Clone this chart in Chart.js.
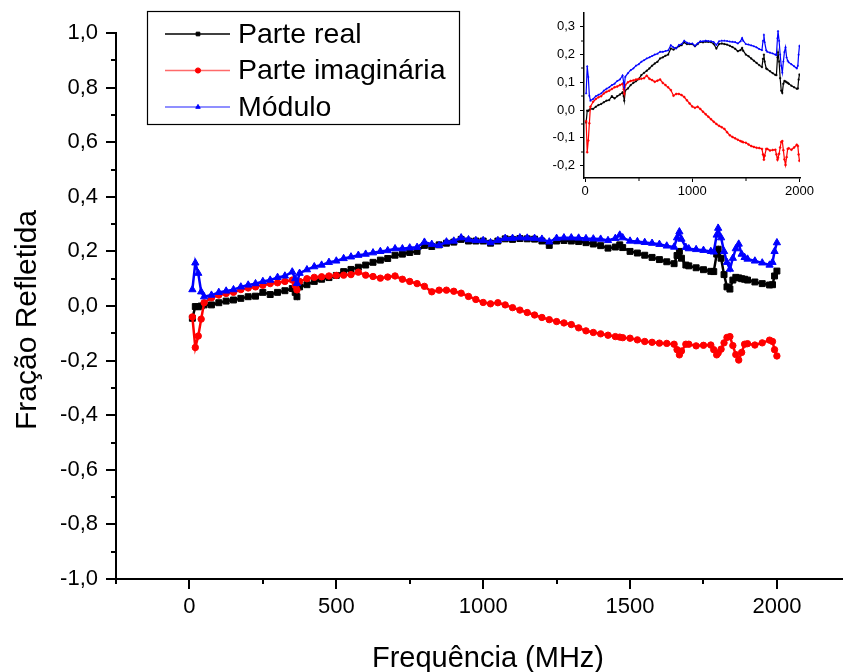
<!DOCTYPE html>
<html>
<head>
<meta charset="utf-8">
<script src="https://cdn.jsdelivr.net/npm/chart.js@4.4.1/dist/chart.umd.min.js"></script>
<style>
  body { margin: 0; background: #fff; }
  #wrap { position: relative; width: 843px; height: 672px; }
  #main { position: absolute; left: 0; top: 0; }
  #inset { position: absolute; left: 530px; top: 0; }
</style>
</head>
<body>
<div id="wrap">
  <canvas id="main" width="843" height="672"></canvas>
  <canvas id="inset" width="313" height="210"></canvas>
</div>
<script>
// frequency samples (MHz) and the three measured curves
const freq = [10, 20, 30, 40, 50,
  75, 100, 125, 150, 175, 200, 225, 250, 275, 300, 325, 350,
  360, 366, 375,
  400, 425, 450, 475, 500, 525, 550, 575, 600, 625, 650, 675, 700, 725, 750, 775,
  800, 825, 850, 875, 900, 925, 950, 975, 1000, 1025, 1050, 1075, 1100, 1125, 1150, 1175,
  1200, 1225, 1250, 1275, 1300, 1325, 1350, 1375, 1400, 1425, 1450,
  1465, 1475,
  1500, 1525, 1550, 1575, 1600, 1625, 1650,
  1660, 1668, 1675, 1690, 1700,
  1725, 1750, 1775,
  1785, 1795, 1800, 1810, 1820, 1830, 1840, 1850, 1860, 1870, 1880, 1890, 1900,
  1925, 1950, 1975,
  1985, 1992, 2000];

const parteReal = [-0.045, -0.002, -0.003, 0.0, 0.004,
  0.004, 0.012, 0.018, 0.022, 0.028, 0.034, 0.036, 0.05, 0.042, 0.05, 0.056, 0.064,
  0.05, 0.034, 0.07,
  0.078, 0.09, 0.098, 0.104, 0.112, 0.126, 0.134, 0.142, 0.15, 0.16, 0.168, 0.174, 0.186, 0.19, 0.196, 0.2,
  0.222, 0.218, 0.224, 0.23, 0.234, 0.244, 0.238, 0.238, 0.238, 0.23, 0.238, 0.246, 0.244, 0.247, 0.246, 0.245,
  0.238, 0.222, 0.238, 0.24, 0.238, 0.236, 0.232, 0.227, 0.221, 0.212, 0.216,
  0.224, 0.214,
  0.2, 0.194, 0.186, 0.178, 0.17, 0.162, 0.155,
  0.185, 0.2, 0.175, 0.15, 0.147,
  0.14, 0.133, 0.127,
  0.126, 0.19, 0.208, 0.175, 0.115, 0.07, 0.062, 0.095, 0.105, 0.103, 0.1, 0.098, 0.095,
  0.088, 0.082, 0.077,
  0.078, 0.11, 0.128];

const parteImag = [-0.04, -0.152, -0.11, -0.048, 0.012,
  0.03, 0.04, 0.046, 0.05, 0.06, 0.066, 0.07, 0.076, 0.082, 0.085, 0.09, 0.095,
  0.075, 0.059, 0.09,
  0.1, 0.105, 0.107, 0.11, 0.112, 0.113, 0.115, 0.124, 0.113, 0.108, 0.102, 0.106, 0.11, 0.098, 0.09, 0.082,
  0.072, 0.052, 0.058, 0.058, 0.054, 0.047, 0.035, 0.024, 0.013, 0.008, 0.012, 0.004, -0.006, -0.015, -0.024, -0.033,
  -0.042, -0.05, -0.057, -0.062, -0.068, -0.08, -0.091, -0.097, -0.102, -0.107, -0.112,
  -0.114, -0.116,
  -0.118, -0.124, -0.13, -0.133, -0.136, -0.137, -0.14,
  -0.16, -0.179, -0.165, -0.14, -0.14,
  -0.146, -0.144, -0.143,
  -0.16, -0.179, -0.172, -0.158, -0.135, -0.115, -0.112, -0.145, -0.178, -0.198, -0.17, -0.14, -0.138,
  -0.143, -0.135, -0.125,
  -0.13, -0.16, -0.183];

const modulo = [0.06, 0.158, 0.12, 0.052, 0.034,
  0.04, 0.05, 0.055, 0.06, 0.07, 0.077, 0.082, 0.09, 0.095, 0.105, 0.11, 0.125,
  0.1, 0.083, 0.12,
  0.133, 0.144, 0.15, 0.16, 0.165, 0.174, 0.18, 0.186, 0.19, 0.195, 0.2, 0.203, 0.21, 0.21, 0.213, 0.215,
  0.234, 0.226, 0.222, 0.235, 0.238, 0.25, 0.243, 0.24, 0.24, 0.232, 0.24, 0.248, 0.248, 0.25, 0.249, 0.248,
  0.245, 0.235, 0.248, 0.25, 0.25, 0.249, 0.247, 0.246, 0.245, 0.24, 0.248,
  0.26, 0.25,
  0.238, 0.236, 0.233, 0.23, 0.226, 0.22, 0.216,
  0.25, 0.272, 0.245, 0.215, 0.21,
  0.207, 0.204, 0.2,
  0.198, 0.26, 0.285, 0.25, 0.2, 0.16, 0.135, 0.175, 0.21, 0.227, 0.19, 0.178, 0.172,
  0.165, 0.158, 0.15,
  0.16, 0.2, 0.232];

const seriesNames = ['Parte real', 'Parte imaginária', 'Módulo'];

// axis ticks
const mainXTicks = [0, 500, 1000, 1500, 2000];
const mainXMinor = [-250, 250, 750, 1250, 1750];
const mainYTicks = [-1.0, -0.8, -0.6, -0.4, -0.2, 0.0, 0.2, 0.4, 0.6, 0.8, 1.0];
const mainYMinor = [-0.9, -0.7, -0.5, -0.3, -0.1, 0.1, 0.3, 0.5, 0.7, 0.9];
const insetXTicks = [0, 1000, 2000];
const insetXMinor = [500, 1500];
const insetYTicks = [-0.2, -0.1, 0.0, 0.1, 0.2, 0.3];
const insetYMinor = [-0.15, -0.05, 0.05, 0.15, 0.25];

const FONT = '"Liberation Sans", Arial, Helvetica, sans-serif';
const comma = v => Number(v).toFixed(1).replace('.', ',');
const plain = v => String(Math.round(v));
const pts = arr => freq.map((f, i) => ({ x: f, y: arr[i] }));

const styles = [
  { color: '#000000', legendLine: '#000000', pointStyle: 'rect', radius: 4.2, order: 2 },
  { color: '#ff0000', legendLine: '#ff6a6a', pointStyle: 'circle', radius: 3.2, order: 1 },
  { color: '#0000ff', legendLine: '#6a6aff', pointStyle: 'triangle', radius: 4.2, order: 0 }
];

function makeDatasets(small) {
  return [parteReal, parteImag, modulo].map((arr, i) => ({
    label: seriesNames[i],
    data: pts(arr),
    borderColor: styles[i].color,
    backgroundColor: styles[i].color,
    pointBackgroundColor: styles[i].color,
    pointBorderColor: styles[i].color,
    pointStyle: styles[i].pointStyle,
    pointRadius: small ? 1 : styles[i].radius,
    pointBorderWidth: small ? 0.5 : 1,
    borderWidth: small ? 1.2 : 2.5,
    legendLine: styles[i].legendLine,
    order: styles[i].order,
    tension: 0
  }));
}

// no automatic label padding, so the plot box stays where it is
const noPad = s => { s.paddingLeft = 0; s.paddingRight = 0; s.paddingTop = 0; s.paddingBottom = 0; };

// short ticks between the labelled ones
const minorTicks = {
  id: 'minorTicks',
  afterDraw(chart, args, opts) {
    const { ctx } = chart;
    const x = chart.scales.x, y = chart.scales.y;
    ctx.save();
    ctx.strokeStyle = '#000';
    ctx.lineWidth = opts.width;
    ctx.beginPath();
    opts.x.forEach(v => {
      const px = Math.round(x.getPixelForValue(v));
      ctx.moveTo(px, y.bottom);
      ctx.lineTo(px, y.bottom + opts.len);
    });
    opts.y.forEach(v => {
      const py = Math.round(y.getPixelForValue(v));
      ctx.moveTo(x.left, py);
      ctx.lineTo(x.left - opts.len, py);
    });
    ctx.stroke();
    ctx.restore();
  }
};

// boxed legend and axis titles of the main plot
const boxLegend = {
  id: 'boxLegend',
  afterDraw(chart) {
    const ctx = chart.ctx;
    ctx.save();
    ctx.strokeStyle = '#000';
    ctx.lineWidth = 1.2;
    ctx.strokeRect(147.5, 11.5, 312, 113);
    ctx.font = '28.5px ' + FONT;
    ctx.textBaseline = 'middle';
    chart.data.datasets.forEach((ds, i) => {
      const yy = 34 + i * 36.5;
      ctx.strokeStyle = ds.legendLine;
      ctx.lineWidth = 1.5;
      ctx.beginPath();
      ctx.moveTo(165, yy);
      ctx.lineTo(230, yy);
      ctx.stroke();
      ctx.fillStyle = ds.borderColor;
      ctx.strokeStyle = ds.borderColor;
      ctx.lineWidth = 1;
      Chart.helpers.drawPoint(ctx, { pointStyle: ds.pointStyle, radius: 2.6, borderWidth: 1, rotation: 0 }, 198, yy);
      ctx.fillStyle = '#000';
      ctx.fillText(ds.label, 238, yy + 1);
    });

    ctx.font = '29px ' + FONT;
    ctx.fillStyle = '#000';
    ctx.textAlign = 'center';
    ctx.textBaseline = 'alphabetic';
    ctx.fillText('Frequência (MHz)', 488, 667);
    ctx.translate(36, 320);
    ctx.rotate(-Math.PI / 2);
    ctx.font = '30px ' + FONT;
    ctx.fillText('Fração Refletida', 0, 0);
    ctx.restore();
  }
};

new Chart(document.getElementById('main'), {
  type: 'line',
  data: { datasets: makeDatasets(false) },
  plugins: [minorTicks, boxLegend],
  options: {
    responsive: false,
    animation: false,
    devicePixelRatio: 1,
    layout: { autoPadding: false, padding: { top: 33, left: 0, right: 0, bottom: 0 } },
    plugins: {
      legend: { display: false },
      tooltip: { enabled: false },
      minorTicks: { x: mainXMinor, y: mainYMinor, len: 5, width: 2 }
    },
    scales: {
      x: {
        type: 'linear',
        min: -250,
        max: 2225,
        border: { display: true, color: '#000', width: 2 },
        grid: { drawOnChartArea: false, drawTicks: true, tickLength: 10, color: '#000', lineWidth: 2 },
        ticks: { color: '#000', font: { family: FONT, size: 22 }, padding: 5, maxRotation: 0, callback: plain },
        afterBuildTicks: s => { s.ticks = mainXTicks.map(v => ({ value: v })); },
        afterFit: s => { s.height = 93; noPad(s); }
      },
      y: {
        type: 'linear',
        min: -1,
        max: 1,
        border: { display: true, color: '#000', width: 2 },
        grid: { drawOnChartArea: false, drawTicks: true, tickLength: 10, color: '#000', lineWidth: 2 },
        ticks: { color: '#000', font: { family: FONT, size: 22 }, padding: 8, callback: comma },
        afterBuildTicks: s => { s.ticks = mainYTicks.map(v => ({ value: v })); },
        afterFit: s => { s.width = 116; noPad(s); }
      }
    }
  }
});

new Chart(document.getElementById('inset'), {
  type: 'line',
  data: { datasets: makeDatasets(true) },
  plugins: [minorTicks],
  options: {
    responsive: false,
    animation: false,
    devicePixelRatio: 1,
    layout: { autoPadding: false, padding: { top: 13, left: 0, right: 43, bottom: 0 } },
    plugins: {
      legend: { display: false },
      tooltip: { enabled: false },
      minorTicks: { x: insetXMinor, y: insetYMinor, len: 3, width: 1 }
    },
    scales: {
      x: {
        type: 'linear',
        min: -10,
        max: 2005,
        border: { display: true, color: '#000', width: 1.5 },
        grid: { drawOnChartArea: false, drawTicks: true, tickLength: 4, color: '#000', lineWidth: 1 },
        ticks: { color: '#000', font: { family: FONT, size: 13 }, padding: 2, maxRotation: 0, callback: plain },
        afterBuildTicks: s => { s.ticks = insetXTicks.map(v => ({ value: v })); },
        afterFit: s => { s.height = 32; noPad(s); }
      },
      y: {
        type: 'linear',
        min: -0.245,
        max: 0.35,
        border: { display: true, color: '#000', width: 1.5 },
        grid: { drawOnChartArea: false, drawTicks: true, tickLength: 4, color: '#000', lineWidth: 1 },
        ticks: { color: '#000', font: { family: FONT, size: 13 }, padding: 5, callback: comma },
        afterBuildTicks: s => { s.ticks = insetYTicks.map(v => ({ value: v })); },
        afterFit: s => { s.width = 54; noPad(s); }
      }
    }
  }
});
</script>
</body>
</html>
